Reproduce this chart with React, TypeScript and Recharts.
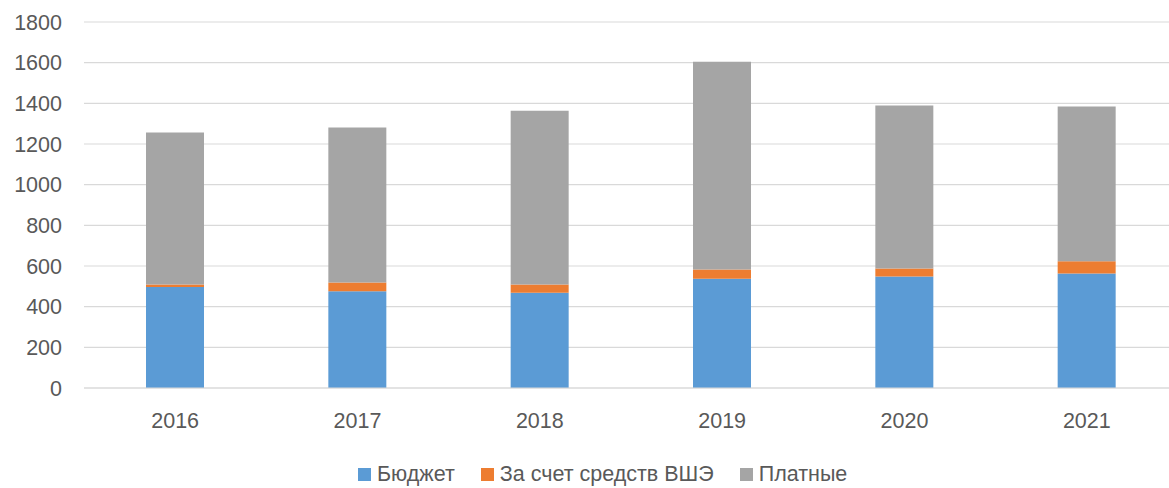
import { BarChart, Bar, XAxis, YAxis, CartesianGrid, Legend } from "recharts";

const years = ["2016", "2017", "2018", "2019", "2020", "2021"];
const budget = [497, 476, 468, 537, 548, 563];
const hseFunded = [12, 43, 41, 46, 40, 60];
const paid = [747, 762, 855, 1022, 801, 761];
const yTicks = [0, 200, 400, 600, 800, 1000, 1200, 1400, 1600, 1800];

const seriesInfo = [
  { key: "budget", label: "Бюджет", color: "#5B9BD5" },
  { key: "hse", label: "За счет средств ВШЭ", color: "#ED7D31" },
  { key: "paid", label: "Платные", color: "#A5A5A5" },
];

const data = years.map((year, i) => ({
  year,
  budget: budget[i],
  hse: hseFunded[i],
  paid: paid[i],
}));

const FONT = "'Liberation Sans', Arial, sans-serif";
const TEXT = "#595959";
const FS = 21.5;

function LegendBox() {
  return (
    <div style={{ display: "flex", alignItems: "center", fontFamily: FONT, fontSize: FS, color: TEXT, lineHeight: "24px" }}>
      {seriesInfo.map((s) => (
        <div key={s.key} style={{ display: "flex", alignItems: "center", marginRight: 26 }}>
          <span style={{ width: 13, height: 13, background: s.color, display: "inline-block", marginRight: 6 }} />
          <span>{s.label}</span>
        </div>
      ))}
    </div>
  );
}

export default function App() {
  return (
    <div style={{ position: "absolute", left: 0, top: 0, width: 1169, height: 488, overflow: "hidden", background: "#fff" }}>
      <BarChart
        width={1180}
        height={488}
        data={data}
        margin={{ top: 22, right: 2, left: 0, bottom: 46 }}
        barSize={58}
      >
        <CartesianGrid vertical={false} stroke="#D9D9D9" strokeWidth={1.2} />
        <XAxis
          dataKey="year"
          height={30}
          tickLine={false}
          axisLine={{ stroke: "#D9D9D9", strokeWidth: 1.2 }}
          tick={{ fontSize: FS, fill: TEXT, fontFamily: FONT }}
          tickMargin={19}
        />
        <YAxis
          width={84}
          domain={[0, 1800]}
          ticks={yTicks}
          interval={0}
          tickLine={false}
          axisLine={false}
          tickSize={0}
          tickMargin={22}
          tick={{ fontSize: FS, fill: TEXT, fontFamily: FONT }}
        />
        {seriesInfo.map((s) => (
          <Bar key={s.key} dataKey={s.key} name={s.label} stackId="a" fill={s.color} isAnimationActive={false} />
        ))}
        <Legend
          content={() => <LegendBox />}
          wrapperStyle={{ position: "absolute", left: 358, top: 462, width: "auto", bottom: "auto" }}
        />
      </BarChart>
    </div>
  );
}
